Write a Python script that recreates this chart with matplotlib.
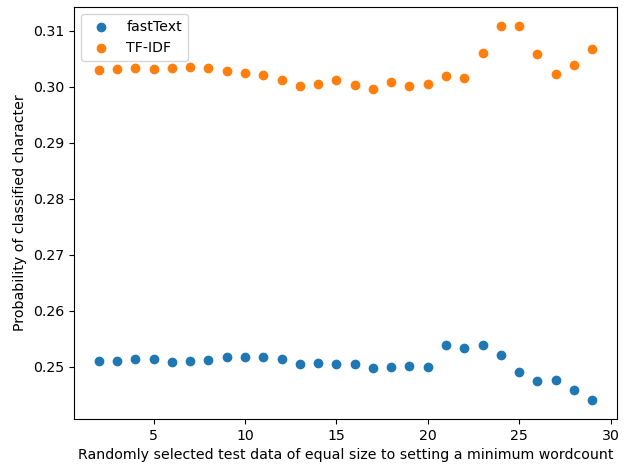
import numpy as np
import matplotlib
matplotlib.use("Agg")
import matplotlib.pyplot as plt

plt.rcParams["font.size"] = 10.2

wordcount = list(range(2, 30))

fasttext = [0.2510, 0.2510, 0.2514, 0.2514, 0.2509, 0.2511, 0.2512, 0.2517,
            0.2518, 0.2517, 0.2514, 0.2504, 0.2506, 0.2505, 0.2504, 0.2498,
            0.2499, 0.2501, 0.2500, 0.2538, 0.2533, 0.2538, 0.2520, 0.2491,
            0.2475, 0.2477, 0.2458, 0.2440]

tfidf = [0.3030, 0.3032, 0.3033, 0.3032, 0.3034, 0.3036, 0.3034, 0.3029,
         0.3025, 0.3021, 0.3012, 0.3002, 0.3005, 0.3012, 0.3004, 0.2996,
         0.3009, 0.3002, 0.3005, 0.3019, 0.3016, 0.3060, 0.3109, 0.3109,
         0.3059, 0.3023, 0.3038, 0.3067]

plt.figure(figsize=(6.31, 4.7), dpi=100)
plt.scatter(wordcount, fasttext, label="fastText")
plt.scatter(wordcount, tfidf, label="TF-IDF")
plt.xlabel("Randomly selected test data of equal size to setting a minimum wordcount")
plt.ylabel("Probability of classified character")
plt.legend(loc="upper left")
plt.subplots_adjust(left=0.1173, right=0.9778, top=0.9851, bottom=0.1085)
plt.savefig("out.png")
